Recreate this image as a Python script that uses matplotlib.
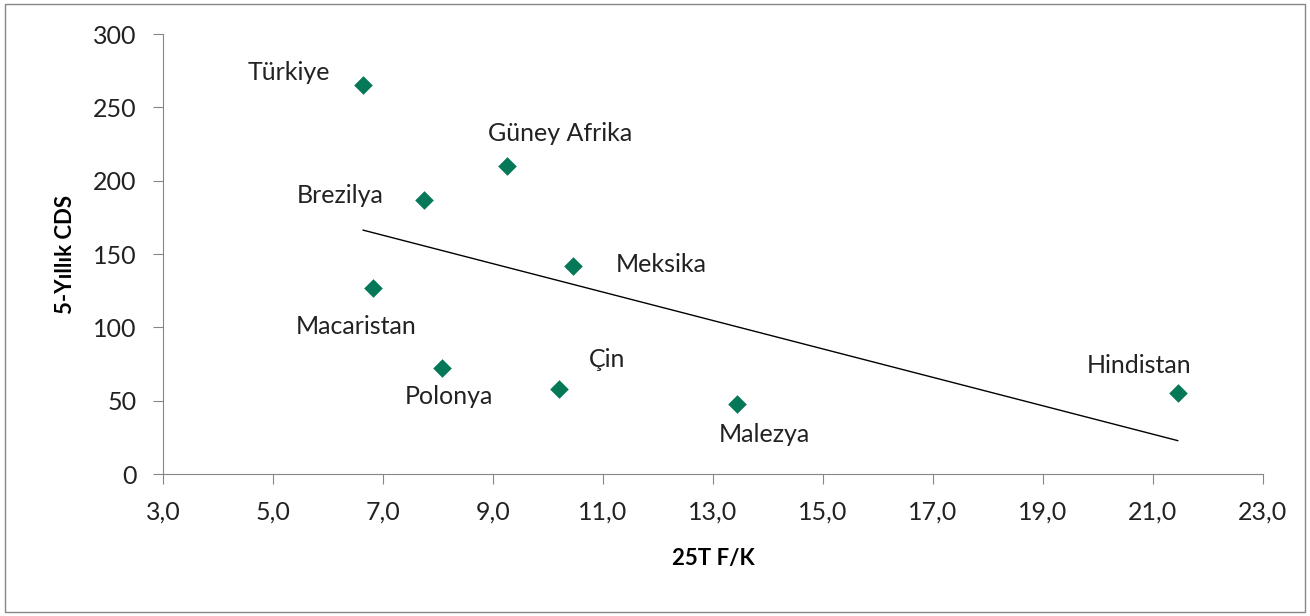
import numpy as np
import matplotlib.pyplot as plt
from matplotlib.patches import Rectangle

countries = ["Türkiye", "Güney Afrika", "Brezilya", "Meksika", "Macaristan",
             "Polonya", "Çin", "Malezya", "Hindistan"]
pe = [6.64, 9.25, 7.75, 10.45, 6.82, 8.07, 10.2, 13.44, 21.45]
cds = [265, 210, 187, 142, 127, 72, 58, 48, 55]
# label offsets in pixels
offsets = [(-74, 13), (53, 33), (-84, 4), (89, 1), (-17, -39),
           (7, -28), (48, 29), (27, -31), (-39, 28)]

plt.rcParams['font.family'] = ['Lato', 'DejaVu Sans']
green = '#047857'
grey = '#868686'

fig = plt.figure(figsize=(13.1, 6.16), dpi=100)
ax = fig.add_axes([0.1244, 0.2305, 0.8397, 0.7143])

ax.scatter(pe, cds, marker='D', s=90, color=green, zorder=3, linewidths=0)

# linear trend line over data range
k, b = np.polyfit(pe, cds, 1)
xs = np.array([min(pe), max(pe)])
ax.plot(xs, k * xs + b, color='black', lw=1)

for name, x, y, off in zip(countries, pe, cds, offsets):
    ax.annotate(name, (x, y), xytext=off, textcoords='offset pixels',
                ha='center', va='center', fontsize=18, color='#222222')

ax.set_xlim(3, 23)
ax.set_ylim(0, 300)
ax.set_xticks(np.arange(3, 24, 2))
ax.set_xticklabels([f"{v:.1f}".replace('.', ',') for v in np.arange(3, 24, 2)])
ax.set_yticks(np.arange(0, 301, 50))
for s in ['top', 'right']:
    ax.spines[s].set_visible(False)
for s in ['left', 'bottom']:
    ax.spines[s].set_color(grey)
ax.tick_params(colors=grey, labelcolor='#222222', labelsize=18, length=7)
ax.tick_params(axis='y', pad=12)
ax.tick_params(axis='x', pad=12)
ax.set_xlabel("25T F/K", fontsize=16, fontweight='bold', labelpad=18)
ax.set_ylabel("5-Yıllık CDS", fontsize=16, fontweight='bold', labelpad=12)

fig.patches.append(Rectangle((0.004, 0.006), 0.992, 0.988, transform=fig.transFigure,
                             fill=False, edgecolor=grey, lw=1))

fig.savefig("out.png", dpi=100)
